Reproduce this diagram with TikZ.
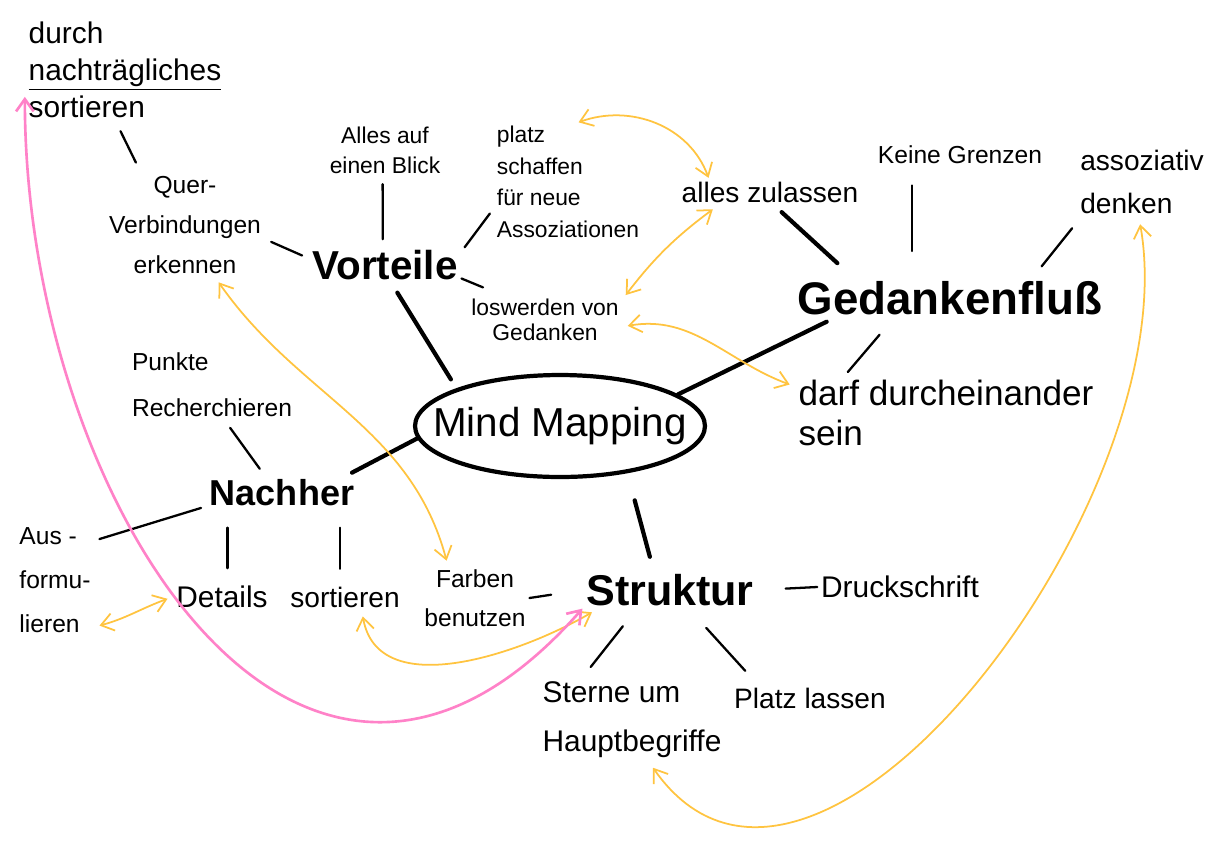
\documentclass[tikz,border=0pt]{standalone}
\usepackage{fontspec}
\setmainfont{Liberation Sans}
\usetikzlibrary{arrows.meta,shapes.geometric}
\definecolor{stiftgelb}{RGB}{255,196,64}
\definecolor{stiftrosa}{RGB}{255,130,200}
\tikzset{
  notiz/.style={font=\fontsize{14}{23}\selectfont, align=center, inner sep=2pt},
  haupt/.style={inner sep=2pt},
  ast/.style={line width=2.4pt, line cap=round},
  zweig/.style={line width=1.3pt, line cap=round},
  kurz/.style={shorten <=#1, shorten >=#1},
  gelb/.style={draw=stiftgelb, line width=1pt, <->},
  rosa/.style={draw=stiftrosa, line width=1.5pt, <->}
}
\begin{document}
\begin{tikzpicture}[x=0.02cm, y=0.02cm, >={Straight Barb[length=7pt,width=10pt]}]
 \useasboundingbox[fill=white] (0,0) rectangle (1217,-846);
 % Mitte
 \node[ellipse, draw, line width=2.4pt, minimum width=5.8cm, minimum height=2.04cm, inner sep=0pt,
       label={[font=\fontsize{23}{26}\selectfont]center:Mind Mapping}] (mind) at (560,-426) {};
 % Hauptaeste
 \node[haupt, font=\fontsize{23}{26}\selectfont\bfseries] (vorteile) at (385,-265) {Vorteile};
 \node[haupt, font=\fontsize{26}{30}\selectfont\bfseries] (gedanken) at (950,-298) {Gedankenfluß};
 \node[haupt, font=\fontsize{20.5}{24}\selectfont\bfseries] (nachher) at (282,-493) {Nachher};
 \node[haupt, font=\fontsize{24.5}{28}\selectfont\bfseries] (struktur) at (670,-590) {Struktur};
 % Vorteile
 \node[notiz, align=left, font=\fontsize{17}{21}\selectfont] (nachsort) at (125,-70) {durch\\\underline{nachträgliches}\\sortieren};
 \node[notiz] (quer) at (185,-225) {Quer-\\Verbindungen\\erkennen};
 \node[notiz, font=\fontsize{13}{17}\selectfont] (allesauf) at (385,-150) {Alles auf\\einen Blick};
 \node[notiz, align=left, font=\fontsize{13}{18}\selectfont] (platz) at (568,-182) {platz\\schaffen\\für neue\\Assoziationen};
 \node[notiz, font=\fontsize{13}{14}\selectfont] (loswerden) at (545,-320) {loswerden von\\Gedanken};
 % Gedankenfluss
 \node[notiz, font=\fontsize{16}{20}\selectfont] (zulassen) at (770,-192) {alles zulassen};
 \node[notiz] (grenzen) at (960,-155) {Keine Grenzen};
 \node[notiz, align=left, font=\fontsize{16}{24}\selectfont] (assoz) at (1142,-182) {assoziativ\\denken};
 \node[notiz, align=left, font=\fontsize{20}{23}\selectfont] (durch) at (946,-413) {darf durcheinander\\sein};
 % Nachher
 \node[notiz, align=left, font=\fontsize{14}{26}\selectfont] (punkte) at (212,-385) {Punkte\\Recherchieren};
 \node[notiz, align=left, font=\fontsize{14}{25}\selectfont] (aus) at (55,-580) {Aus -\\formu-\\lieren};
 \node[notiz, font=\fontsize{17}{20}\selectfont] (details) at (222,-597) {Details};
 \node[notiz, font=\fontsize{16}{20}\selectfont] (sortieren) at (345,-597) {sortieren};
 % Struktur
 \node[notiz, font=\fontsize{14}{22}\selectfont] (farben) at (475,-598) {Farben\\benutzen};
 \node[notiz, font=\fontsize{17}{20}\selectfont] (druck) at (900,-587) {Druckschrift};
 \node[notiz, align=left, font=\fontsize{17}{28}\selectfont] (sterne) at (632,-720) {Sterne um\\Hauptbegriffe};
 \node[notiz, font=\fontsize{16}{20}\selectfont] (platzlassen) at (810,-698) {Platz lassen};

 % Striche zur Mitte
 \draw[ast, kurz=6pt] (vorteile.-70) -- (mind.160);
 \draw[ast, shorten <=4pt] (gedanken.190) -- (mind.15);
 \draw[ast, shorten <=4pt] (nachher.15) -- (mind.185);
 \draw[ast, shorten <=16pt, shorten >=8pt] (mind.-35) -- (struktur.130);
 % Striche zu den Blaettern
 \draw[zweig, kurz=6pt] (nachsort.-100) -- (quer.130);
 \draw[zweig, kurz=4pt] (quer.-10) -- (vorteile.175);
 \draw[zweig, kurz=4pt] (allesauf.-95) -- (vorteile.97);
 \draw[zweig, kurz=3pt] (vorteile.10) -- (platz.200);
 \draw[zweig, shorten >=12pt] (vorteile.-10) -- (loswerden.150);
 \draw[ast, shorten <=5pt, shorten >=12pt] (zulassen.-70) -- (gedanken.168);
 \draw[zweig, shorten <=10pt, shorten >=15pt] (grenzen.-165) -- (grenzen.-165 |- gedanken.north);
 \draw[zweig, kurz=8pt] (assoz.-150) -- (gedanken.14);
 \draw[zweig, shorten <=12pt, shorten >=3pt] (gedanken.-160) -- (durch.160);
 \draw[zweig, kurz=5pt] (punkte.-70) -- (nachher.135);
 \draw[zweig, kurz=3pt] (aus.45) -- (nachher.190);
 \draw[zweig, shorten <=8pt, shorten >=10pt] (details.70) -- (details.70 |- nachher.south);
 \draw[zweig, shorten <=8pt, shorten >=10pt] (sortieren.110) -- (sortieren.110 |- nachher.south);
 \draw[zweig, shorten >=18pt] (farben.east) -- (struktur.west);
 \draw[zweig, shorten <=16pt] (struktur.east) -- (druck.west);
 \draw[zweig, shorten <=12pt, shorten >=8pt] (struktur.-150) -- (sterne.140);
 \draw[zweig, shorten <=14pt, shorten >=10pt] (struktur.-45) -- (platzlassen.165);

 % Querbezuege
 \draw[gelb] (platz.80) to[out=20, in=110] (zulassen.167);
 \draw[gelb, kurz=3pt] (zulassen.-165) to[bend right=8] (loswerden.15);
 \draw[gelb, kurz=3pt] (loswerden.-5) to[out=10, in=160] (durch.170);
 \draw[gelb, kurz=3pt] (quer.-60) to[out=-55, in=105] (farben.130);
 \draw[gelb, kurz=3pt] (aus.-50) to[out=15, in=-160] (details.west);
 \draw[gelb, kurz=3pt] (sortieren.-40) to[out=-80, in=-150] (struktur.-165);
 \draw[gelb, kurz=4pt] (assoz.-95) to[out=-80, in=-55] (sterne.-68);
 \draw[rosa] (struktur.-168) .. controls (300,-930) and (25,-500) .. (nachsort.-165);
\end{tikzpicture}
\end{document}
